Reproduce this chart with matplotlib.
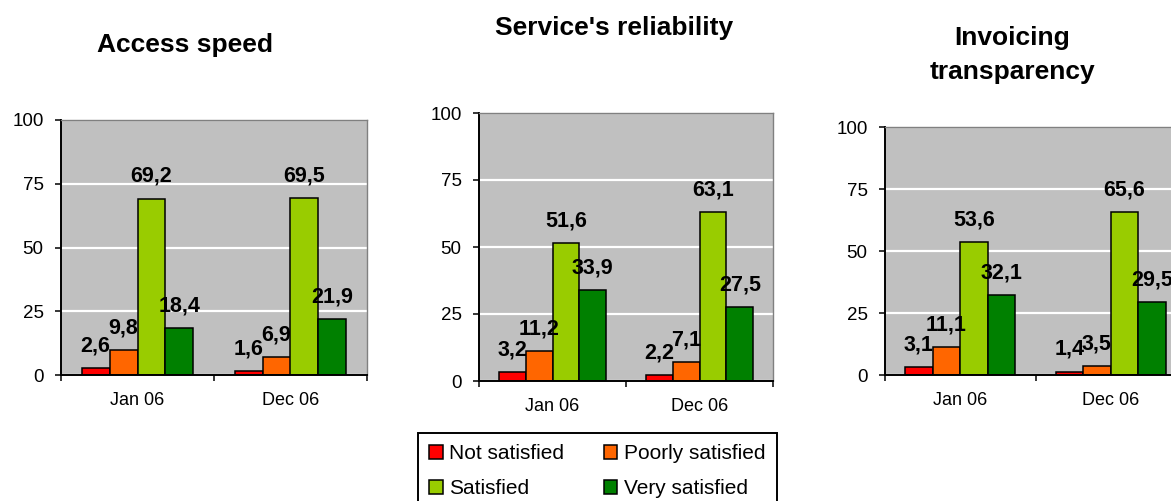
import matplotlib
matplotlib.use("Agg")
import numpy as np
import matplotlib.pyplot as plt
from matplotlib.patches import Patch

plt.rcParams["font.family"] = ["Liberation Sans", "DejaVu Sans"]

# data
categories = ["Jan 06", "Dec 06"]
series_names = ["Not satisfied", "Poorly satisfied", "Satisfied", "Very satisfied"]
series_colors = ["#FF0000", "#FF6600", "#99CC00", "#008000"]

# one list per series: [Jan 06, Dec 06]
access_speed = [[2.6, 1.6], [9.8, 6.9], [69.2, 69.5], [18.4, 21.9]]
reliability = [[3.2, 2.2], [11.2, 7.1], [51.6, 63.1], [33.9, 27.5]]
invoicing = [[3.1, 1.4], [11.1, 3.5], [53.6, 65.6], [32.1, 29.5]]

y_ticks = [0, 25, 50, 75, 100]

W, H = 1171, 501
fig = plt.figure(figsize=(W / 100, H / 100), dpi=100)


def px_axes(left, top, right, bottom):
    return fig.add_axes([left / W, 1 - bottom / H, (right - left) / W, (bottom - top) / H])


def draw_panel(ax, values):
    x = np.arange(len(categories))
    w = 0.183
    for i, (vals, color) in enumerate(zip(values, series_colors)):
        pos = x + (i - 1.5) * w
        ax.bar(pos, vals, width=w, color=color, edgecolor="black", linewidth=1.1, zorder=2)
        for xp, v in zip(pos, vals):
            ax.annotate(f"{v:.1f}".replace(".", ","), (xp, v), xytext=(0, 12),
                        textcoords="offset points", ha="center", va="baseline",
                        fontsize=15.5, fontweight="bold", zorder=5)

    ax.set_facecolor("#C0C0C0")
    ax.set_xlim(-0.5, len(categories) - 0.5)
    ax.set_ylim(0, 100)
    ax.set_yticks(y_ticks)
    ax.yaxis.grid(True, color="white", linewidth=1.6)
    ax.set_axisbelow(True)

    ax.set_xticks(x)
    ax.set_xticklabels(categories)
    ax.set_xticks(np.arange(-0.5, len(categories)), minor=True)
    ax.tick_params(axis="x", which="major", length=0, pad=12, labelsize=13)
    ax.tick_params(axis="x", which="minor", length=4.5, width=1.1, direction="out")
    ax.tick_params(axis="y", length=4.5, width=1.1, pad=8, labelsize=13.5)

    for s in ["left", "bottom"]:
        ax.spines[s].set_color("black")
        ax.spines[s].set_linewidth(1.4)
    for s in ["top", "right"]:
        ax.spines[s].set_color("#808080")
        ax.spines[s].set_linewidth(1.0)


ax1 = px_axes(61, 120, 367, 375)
ax2 = px_axes(479, 113, 773, 381)
ax3 = px_axes(885, 127, 1186, 375)

draw_panel(ax1, access_speed)
draw_panel(ax2, reliability)
draw_panel(ax3, invoicing)

# titles
fig.text(185 / W, 1 - 52 / H, "Access speed", ha="center", va="baseline",
         fontsize=19, fontweight="bold")
fig.text(614 / W, 1 - 35 / H, "Service's reliability", ha="center", va="baseline",
         fontsize=19, fontweight="bold")
fig.text(1012 / W, 1 - 79 / H, "Invoicing\ntransparency", ha="center", va="baseline",
         fontsize=19, fontweight="bold", linespacing=1.5)

# legend (row-wise order for two columns)
handles = [Patch(facecolor=c, edgecolor="black", linewidth=1.1) for c in series_colors]
order = [0, 2, 1, 3]
leg = fig.legend([handles[i] for i in order], [series_names[i] for i in order],
                 loc="upper left", bbox_to_anchor=(418 / W, 1 - 433 / H), ncol=2,
                 fontsize=15, frameon=True, fancybox=False, framealpha=1,
                 edgecolor="black", handlelength=0.65, handleheight=0.65,
                 handletextpad=0.3, columnspacing=1.9, labelspacing=0.75,
                 borderpad=0.55, borderaxespad=0)
leg.get_frame().set_linewidth(1.4)

fig.savefig("out.png", dpi=100)
